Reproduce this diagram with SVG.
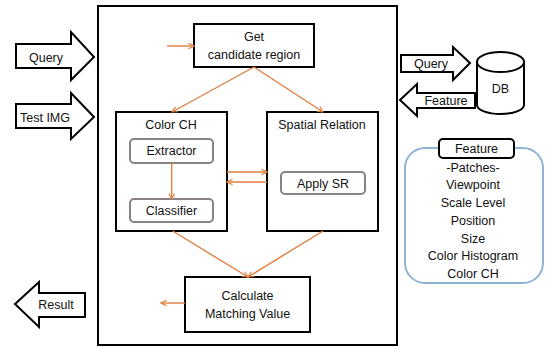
<svg xmlns="http://www.w3.org/2000/svg" width="545" height="347" viewBox="0 0 545 347">
<defs>
<marker id="ah" viewBox="0 0 10 10" refX="9" refY="5" markerWidth="7" markerHeight="7" orient="auto" markerUnits="userSpaceOnUse">
<path d="M1,1 L9,5 L1,9" fill="none" stroke="#E07F3E" stroke-width="1.6"/>
</marker>
</defs>
<style>
text{font-family:"Liberation Sans",Arial,sans-serif;font-size:12.5px;fill:#111;text-anchor:middle}
.box{fill:#fff;stroke:#000;stroke-width:2}
.sub{fill:#fff;stroke:#8a8282;stroke-width:2}
.big{fill:#fff;stroke:#000;stroke-width:2;stroke-linejoin:miter}
.c{fill:none;stroke:#E07F3E;stroke-width:1.4;marker-end:url(#ah)}
</style>
<rect width="545" height="347" fill="#fff"/>
<g id="main"><rect x="98" y="6" width="299" height="339" class="box"/></g>
<g id="query-in"><path d="M16,44 H71 V32 L94,57 L71,80 V68 H16 Z" class="big"/><text x="46" y="62">Query</text></g>
<g id="testimg-in"><path d="M16,104 H71 V93 L94,117 L71,139 V128 H16 Z" class="big"/><text x="45" y="122">Test IMG</text></g>
<g id="result-out"><path d="M85,293 H39 V282 L15,304 L39,327 V317 H85 Z" class="big"/><text x="56" y="309">Result</text></g>
<g id="get-candidate"><rect x="194" y="24" width="120" height="43" class="box"/><text x="254" y="41">Get</text><text x="254" y="59">candidate region</text></g>
<g id="color-ch"><rect x="116" y="112" width="111" height="119" class="box"/><text x="171" y="129">Color CH</text></g>
<g id="extractor"><rect x="130" y="139" width="83" height="24" rx="4" class="sub"/><text x="171.5" y="155">Extractor</text></g>
<g id="classifier"><rect x="130" y="199" width="83" height="23" rx="4" class="sub"/><text x="171.5" y="215">Classifier</text></g>
<g id="spatial"><rect x="267" y="112" width="111" height="119" class="box"/><text x="322" y="129">Spatial Relation</text></g>
<g id="apply-sr"><rect x="281" y="172" width="84" height="22" rx="4" class="sub"/><text x="323" y="188">Apply SR</text></g>
<g id="calculate"><rect x="185" y="277" width="125" height="55" class="box"/><text x="247.5" y="300">Calculate</text><text x="247.5" y="318">Matching Value</text></g>
<g id="query-out"><path d="M401,55 H453 V47 L470,63 L453,80 V72 H401 Z" class="big"/><text x="431" y="68">Query</text></g>
<g id="feature-in"><path d="M475,93 H417 V84 L400,100 L417,116 V108 H475 Z" class="big"/><text x="446" y="105">Feature</text></g>
<g id="db"><path d="M477,62 A23.5,10 0 0 1 524,62 V105 A23.5,9 0 0 1 477,105 Z" fill="#fff" stroke="#000" stroke-width="2"/><path d="M477,62 A23.5,10 0 0 0 524,62" fill="none" stroke="#000" stroke-width="2"/><text x="500.5" y="93">DB</text></g>
<g id="feature-panel"><rect x="405" y="148" width="138" height="135" rx="20" fill="#fff" stroke="#8FB3D4" stroke-width="2"/>
<rect x="439" y="139" width="75" height="19" rx="4" class="box"/><text x="476.5" y="153">Feature</text>
<text x="473" y="172">-Patches-</text><text x="473" y="189">Viewpoint</text><text x="473" y="207">Scale Level</text><text x="473" y="225">Position</text><text x="473" y="243">Size</text><text x="473" y="260">Color Histogram</text><text x="473" y="278">Color CH</text></g>
<g id="connectors">
<line x1="167" y1="46" x2="194" y2="46" class="c"/>
<line x1="254" y1="67" x2="172" y2="112" class="c"/>
<line x1="254" y1="67" x2="323" y2="112" class="c"/>
<line x1="171.7" y1="163" x2="171.7" y2="199" class="c"/>
<line x1="227" y1="172" x2="267" y2="172" class="c"/>
<line x1="267" y1="182" x2="227" y2="182" class="c"/>
<line x1="172.7" y1="231" x2="248" y2="277" class="c"/>
<line x1="323" y1="231" x2="248" y2="277" class="c"/>
<line x1="185" y1="303" x2="161" y2="303" class="c"/>
</g>
</svg>
